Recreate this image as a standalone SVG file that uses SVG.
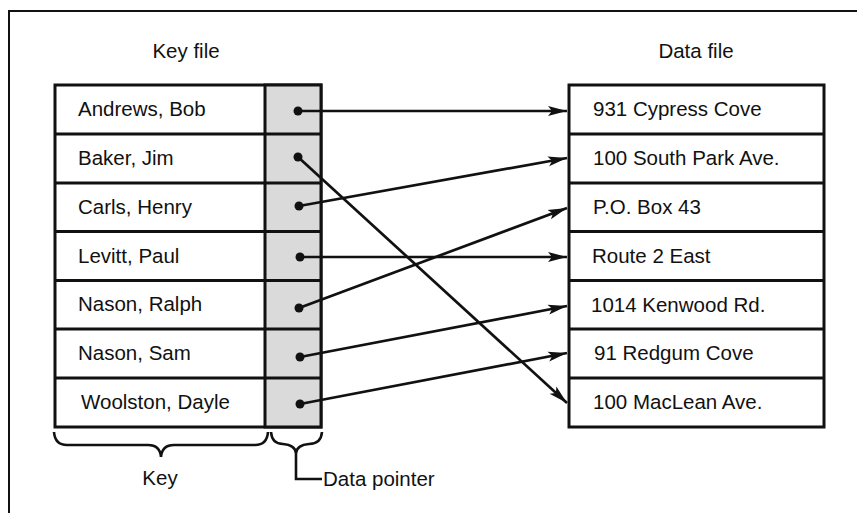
<svg xmlns="http://www.w3.org/2000/svg" width="857" height="513" viewBox="0 0 857 513">
<style>
text{font-family:"Liberation Sans",Arial,Helvetica,sans-serif;font-size:20.5px;fill:#111;}
.tbl{fill:#fff;stroke:#111;stroke-width:3;}
.ptr{fill:#dadada;stroke:#111;stroke-width:3;}
.rule{stroke:#111;stroke-width:3;}
.conn{stroke:#111;stroke-width:2.7;fill:none;marker-end:url(#ah);}
.dot{fill:#111;}
.brace{stroke:#111;stroke-width:2.6;fill:none;}
.mid{text-anchor:middle;}
</style>
<defs>
<marker id="ah" markerUnits="userSpaceOnUse" markerWidth="22" markerHeight="12" refX="19" refY="6" orient="auto">
<path d="M0,1 L19,6 L0,11 L4,6 Z" fill="#111"/>
</marker>
</defs>
<rect width="857" height="513" fill="#fff"/>
<g id="frame">
<path d="M9,513 L9,11 L857,11" stroke="#111" stroke-width="2" fill="none"/>
</g>
<g id="key-file">
<text class="mid" x="186" y="58">Key file</text>
<rect class="tbl" x="55" y="85" width="266" height="342"/>
<rect class="ptr" x="265" y="85" width="56" height="342"/>
<line class="rule" x1="55" y1="134" x2="321" y2="134"/>
<line class="rule" x1="55" y1="183" x2="321" y2="183"/>
<line class="rule" x1="55" y1="231.5" x2="321" y2="231.5"/>
<line class="rule" x1="55" y1="280.5" x2="321" y2="280.5"/>
<line class="rule" x1="55" y1="329" x2="321" y2="329"/>
<line class="rule" x1="55" y1="378" x2="321" y2="378"/>
<g id="k1"><text x="78" y="116">Andrews, Bob</text><circle class="dot" cx="298" cy="111" r="4.5"/></g>
<g id="k2"><text x="78" y="165">Baker, Jim</text><circle class="dot" cx="298" cy="157" r="4.5"/></g>
<g id="k3"><text x="78" y="214">Carls, Henry</text><circle class="dot" cx="299" cy="206" r="4.5"/></g>
<g id="k4"><text x="78" y="263">Levitt, Paul</text><circle class="dot" cx="300" cy="257" r="4.5"/></g>
<g id="k5"><text x="78" y="311">Nason, Ralph</text><circle class="dot" cx="299" cy="308" r="4.5"/></g>
<g id="k6"><text x="78" y="360">Nason, Sam</text><circle class="dot" cx="300" cy="357" r="4.5"/></g>
<g id="k7"><text x="81" y="409">Woolston, Dayle</text><circle class="dot" cx="300" cy="404" r="4.5"/></g>
</g>
<g id="data-file">
<text class="mid" x="696" y="58">Data file</text>
<rect class="tbl" x="569" y="85" width="255" height="342"/>
<line class="rule" x1="569" y1="134" x2="824" y2="134"/>
<line class="rule" x1="569" y1="183" x2="824" y2="183"/>
<line class="rule" x1="569" y1="231.5" x2="824" y2="231.5"/>
<line class="rule" x1="569" y1="280.5" x2="824" y2="280.5"/>
<line class="rule" x1="569" y1="329" x2="824" y2="329"/>
<line class="rule" x1="569" y1="378" x2="824" y2="378"/>
<g id="d1"><text x="593" y="116">931 Cypress Cove</text></g>
<g id="d2"><text x="593" y="165">100 South Park Ave.</text></g>
<g id="d3"><text x="593" y="214">P.O. Box 43</text></g>
<g id="d4"><text x="592" y="263">Route 2 East</text></g>
<g id="d5"><text x="591" y="312">1014 Kenwood Rd.</text></g>
<g id="d6"><text x="594" y="360">91 Redgum Cove</text></g>
<g id="d7"><text x="593" y="409">100 MacLean Ave.</text></g>
</g>
<g id="connectors">
<line class="conn" x1="298" y1="111" x2="567" y2="111"/>
<line class="conn" x1="298" y1="157" x2="567" y2="403"/>
<line class="conn" x1="299" y1="206" x2="567" y2="158"/>
<line class="conn" x1="300" y1="257" x2="567" y2="257"/>
<line class="conn" x1="299" y1="308" x2="567" y2="208"/>
<line class="conn" x1="300" y1="357" x2="567" y2="306"/>
<line class="conn" x1="300" y1="404" x2="567" y2="353"/>
</g>
<g id="key-brace">
<path class="brace" d="M54,432 Q55,445 67,445 L148,445 Q160,445 161,457 Q162,445 174,445 L255,445 Q267,445 268,432"/>
<text class="mid" x="160" y="485">Key</text>
</g>
<g id="pointer-brace">
<path class="brace" d="M271,432 Q272,444 283,444 Q295,445 296,453 Q297,445 309,444 Q321,444 322,432"/>
<path class="brace" d="M296,453 L296,479 L322,479"/>
<text x="323" y="486">Data pointer</text>
</g>
</svg>
